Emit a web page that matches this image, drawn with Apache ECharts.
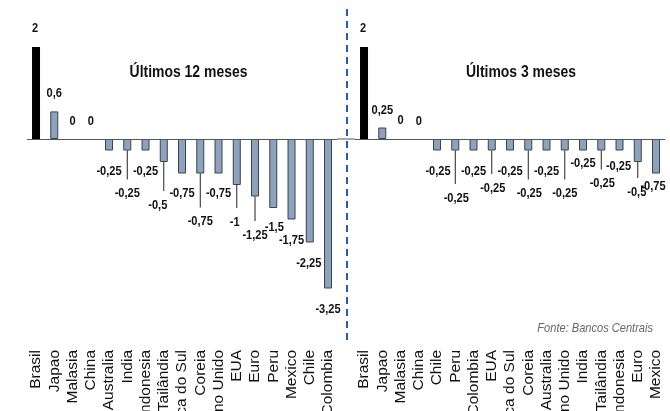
<!DOCTYPE html>
<html>
<head>
<meta charset="utf-8">
<script src="https://cdn.jsdelivr.net/npm/echarts@6/dist/echarts.min.js"></script>
<style>html,body{margin:0;padding:0;background:#fff}#c{width:670px;height:411px}</style>
</head>
<body>
<div id="c"></div>
<script>
// ---------- DATA ----------
const categories12 = ['Brasil','Japao','Malasia','China','Australia','India','Indonesia','Tailândia','Africa do Sul','Coreia','Reino Unido','EUA','Euro','Peru','Mexico','Chile','Colombia'];
const values12 = [2, 0.6, 0, 0, -0.25, -0.25, -0.25, -0.5, -0.75, -0.75, -0.75, -1, -1.25, -1.5, -1.75, -2.25, -3.25];
const categories3 = ['Brasil','Japao','Malasia','China','Chile','Peru','Colombia','EUA','Africa do Sul','Coreia','Australia','Reino Unido','India','Tailândia','Indonesia','Euro','Mexico'];
const values3 = [2, 0.25, 0, 0, -0.25, -0.25, -0.25, -0.25, -0.25, -0.25, -0.25, -0.25, -0.25, -0.25, -0.25, -0.5, -0.75];
const title12 = 'Últimos 12 meses';
const title3 = 'Últimos 3 meses';
const sourceText = 'Fonte: Bancos Centrais';

// ---------- STYLE / LAYOUT ----------
const SANS = "'Liberation Sans',Arial,sans-serif";
const NARROW_SCALE = 0.82;
const Y_MIN = -4.5, Y_MAX = 2.5, PX_PER_UNIT = 46, ZERO_Y = 139;
const GRID_TOP = ZERO_Y - Y_MAX * PX_PER_UNIT;
const GRID_H = (Y_MAX - Y_MIN) * PX_PER_UNIT;
const BAND = 18.25;
const GRID_W = BAND * 17;
const LEFT0 = 26.9, LEFT1 = 354.9;
// label placement (distance of label centre from bar end, and horizontal nudge)
const labelDrop12 = [19, 18, 18, 18, 21, 43, 21, 43, 20, 48, 20, 37, 38.5, 19, 20.5, 20.5, 20.5];
const labelDx12   = [-1, 0, 0, 0, 0, 0, 0, -6, 0, 0, 0, -2, 0, 1, 0, -1, 0];
const labelDrop3  = [19, 17.5, 18.3, 18, 21, 47.5, 21, 37.5, 21, 43, 21, 43, 13, 33, 15.5, 30, 13];
const labelDx3    = [-1, 0, 0, 0, 1, 1, 0, 1, 0, 1, 0, 0, 0, 1, -1, -1, -3];

function fmt(v){ return String(v).replace('.', ','); }

function narrowText(x, y, text, font, fill, align){
  return {
    type: 'text', x: x, y: y, scaleX: NARROW_SCALE,
    style: {text: text, align: align || 'center', verticalAlign: 'middle', font: font, fill: fill}
  };
}

function barSeries(vals, idx){
  return {
    type: 'bar', xAxisIndex: idx, yAxisIndex: idx, barWidth: 8,
    data: vals.map((v, i) => ({
      value: v,
      itemStyle: i === 0 ? {color: '#000', borderWidth: 0}
        : {color: '#8da3bb', borderColor: '#3a4250', borderWidth: v === 0 ? 0 : 1}
    })),
    markLine: {
      silent: true, symbol: 'none', label: {show: false},
      lineStyle: {color: '#555', width: 1, type: 'solid'},
      data: [{yAxis: 0}]
    },
    z: 2
  };
}

function labelSeries(vals, drops, dxs, idx){
  return {
    type: 'custom', xAxisIndex: idx, yAxisIndex: idx, z: 5,
    data: vals.map((v, i) => [i, v]),
    encode: {x: 0, y: 1},
    renderItem: function(params, api){
      const i = api.value(0), v = api.value(1);
      const p = api.coord([i, v]);
      const drop = drops[i], dx = dxs[i];
      const children = [];
      let ty;
      if (v >= 0) {
        ty = p[1] - drop;
      } else {
        ty = p[1] + drop;
        if (drop > 28) {
          children.push({
            type: 'line',
            shape: {x1: p[0], y1: p[1], x2: p[0], y2: p[1] + drop - 14},
            style: {stroke: '#222', lineWidth: 1}
          });
        }
      }
      children.push(narrowText(p[0] + dx, ty, fmt(v), 'bold 13.5px ' + SANS, '#111'));
      return {type: 'group', children: children};
    }
  };
}

function xAxis(cats, idx){
  return {
    type: 'category', gridIndex: idx, data: cats,
    axisLine: {show: false}, axisTick: {show: false},
    axisLabel: {interval: 0, rotate: 90, margin: 4, fontSize: 15.5, fontFamily: SANS, color: '#111'}
  };
}
function yAxis(idx){
  return {type: 'value', gridIndex: idx, min: Y_MIN, max: Y_MAX, show: false, splitLine: {show: false}};
}

const chart = echarts.init(document.getElementById('c'), null, {renderer: 'canvas'});
chart.setOption({
  animation: false,
  backgroundColor: '#fff',
  grid: [
    {left: LEFT0, top: GRID_TOP, width: GRID_W, height: GRID_H, containLabel: false, outerBoundsMode: 'none'},
    {left: LEFT1, top: GRID_TOP, width: GRID_W, height: GRID_H, containLabel: false, outerBoundsMode: 'none'}
  ],
  xAxis: [xAxis(categories12, 0), xAxis(categories3, 1)],
  yAxis: [yAxis(0), yAxis(1)],
  series: [
    barSeries(values12, 0), labelSeries(values12, labelDrop12, labelDx12, 0),
    barSeries(values3, 1), labelSeries(values3, labelDrop3, labelDx3, 1)
  ],
  graphic: [
    {type: 'line', shape: {x1: LEFT0 + GRID_W, y1: ZERO_Y, x2: LEFT1, y2: ZERO_Y}, style: {stroke: '#555', lineWidth: 1}},
    {type: 'line', shape: {x1: 347, y1: 9, x2: 347, y2: 345}, style: {stroke: '#2060a8', lineWidth: 2, lineDash: [7, 5]}},
    narrowText(188.5, 72, title12, 'bold 17px ' + SANS, '#111'),
    narrowText(521, 72, title3, 'bold 17px ' + SANS, '#111'),
    narrowText(653, 328, sourceText, 'italic 13.5px ' + SANS, '#666', 'right')
  ]
});
</script>
</body>
</html>
